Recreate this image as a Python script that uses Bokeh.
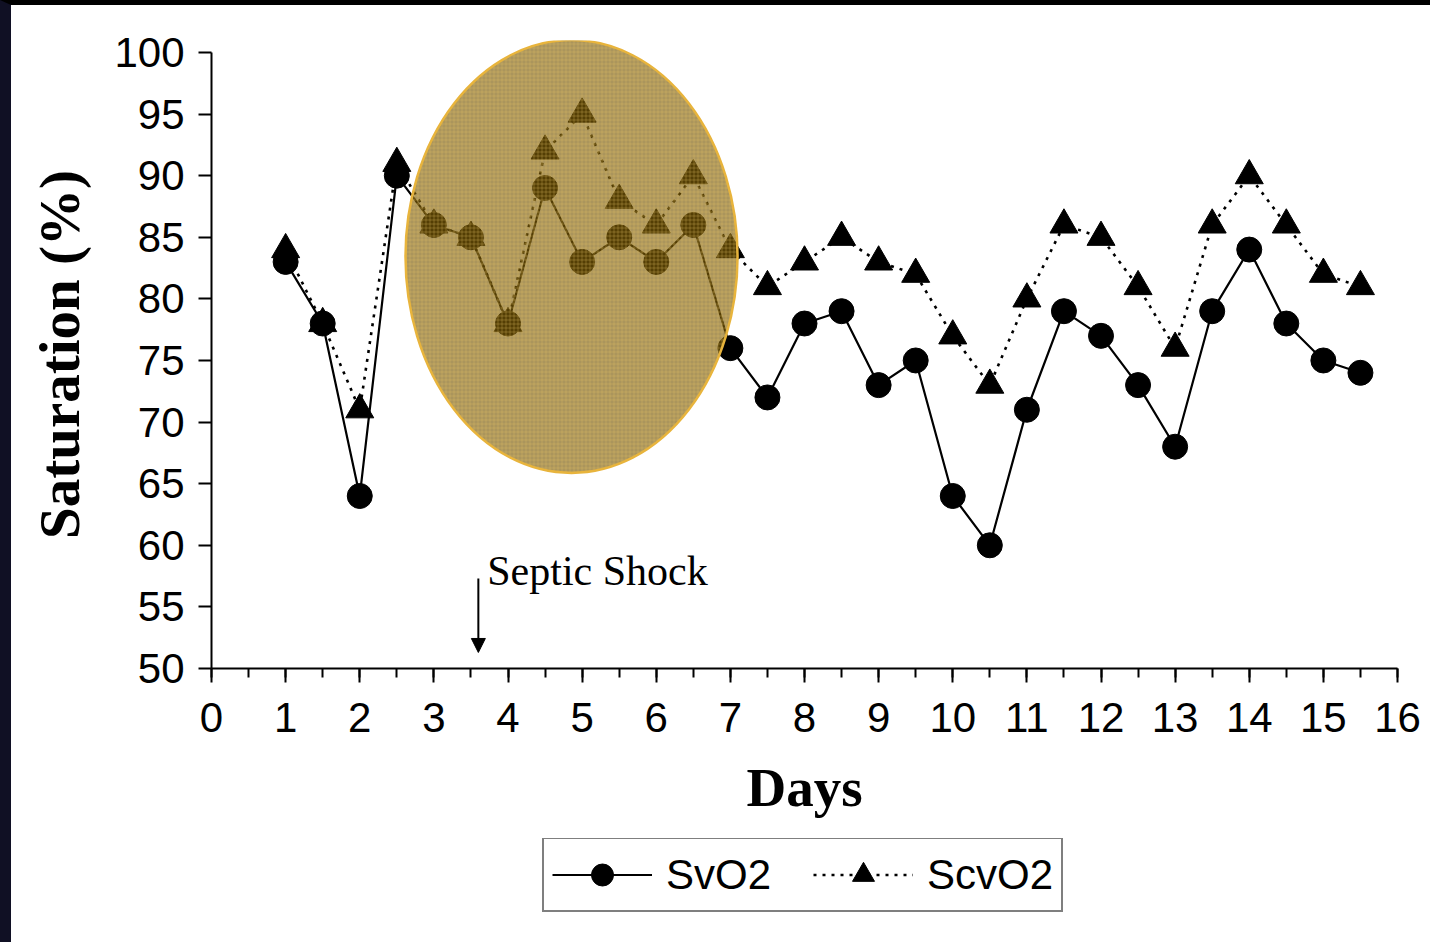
from bokeh.plotting import figure
from bokeh.layouts import column
from bokeh.models import (ColumnDataSource, Legend, LegendItem, SingleIntervalTicker,
                          Arrow, NormalHead, Label, Range1d)
from bokeh.embed import file_html
from bokeh.resources import INLINE

# Mixed venous (SvO2) and central venous (ScvO2) oxygen saturation, twice daily
days = [1, 1.5, 2, 2.5, 3, 3.5, 4, 4.5, 5, 5.5, 6, 6.5, 7, 7.5, 8, 8.5,
        9, 9.5, 10, 10.5, 11, 11.5, 12, 12.5, 13, 13.5, 14, 14.5, 15, 15.5]
svo2 = [83, 78, 64, 90, 86, 85, 78, 89, 83, 85, 83, 86, 76, 72, 78, 79,
        73, 75, 64, 60, 71, 79, 77, 73, 68, 79, 84, 78, 75, 74]
scvo2 = [84, 78, 71, 91, 86, 85, 78, 92, 95, 88, 86, 90, 84, 81, 83, 85,
         83, 82, 77, 73, 80, 86, 85, 81, 76, 86, 90, 86, 82, 81]

series_labels = ["SvO2", "ScvO2"]
x_title = "Days"
y_title = "Saturation (%)"
event_label = "Septic Shock"
event_day = 3.6

src = ColumnDataSource(dict(day=days, svo2=svo2, scvo2=scvo2))

SANS = "Liberation Sans"
SERIF = "Liberation Serif"

SV_LINE = dict(line_color="black", line_width=2.2)
SCV_LINE = dict(line_color="black", line_width=2.6, line_dash="3 6")
SV_MARK = dict(marker="circle", size=25, fill_color="black", line_color="black")
SCV_MARK = dict(marker="triangle", size=28, fill_color="black", line_color="black")

# main chart; a little head room above 100 so the highlight ellipse is not clipped
p = figure(frame_width=1186, frame_height=628,
           x_range=Range1d(0, 16), y_range=Range1d(50, 100.97),
           output_backend="svg", toolbar_location=None,
           min_border_left=200, min_border_right=33,
           min_border_top=35, min_border_bottom=170,
           background_fill_color="white", border_fill_color="white")
p.outline_line_color = None
p.grid.visible = False

# axes
p.xaxis.ticker = SingleIntervalTicker(interval=1, num_minor_ticks=2)
p.yaxis.ticker = SingleIntervalTicker(interval=5, num_minor_ticks=0)
p.yaxis.bounds = (50, 100)
for ax in (p.xaxis[0], p.yaxis[0]):
    ax.axis_line_width = 2
    ax.axis_line_color = "black"
    ax.major_tick_line_width = 2
    ax.minor_tick_line_width = 2
    ax.major_tick_line_color = "black"
    ax.minor_tick_line_color = "black"
    ax.major_tick_in = 0
    ax.minor_tick_in = 0
    ax.major_label_text_font = SANS
    ax.major_label_text_font_size = "42px"
    ax.major_label_text_color = "black"
    ax.axis_label_text_font = SERIF
    ax.axis_label_text_font_style = "bold"
    ax.axis_label_text_color = "black"

p.xaxis.major_tick_out = 14
p.xaxis.minor_tick_out = 9
p.xaxis.major_label_standoff = 20
p.xaxis.axis_label = x_title
p.xaxis.axis_label_standoff = 22
p.xaxis.axis_label_text_font_size = "55px"

p.yaxis.major_tick_out = 13
p.yaxis.minor_tick_out = 0
p.yaxis.major_label_standoff = 14
p.yaxis.axis_label = y_title
p.yaxis.axis_label_standoff = 20
p.yaxis.axis_label_text_font_size = "57px"

# series
p.line("day", "svo2", source=src, **SV_LINE)
p.scatter("day", "svo2", source=src, **SV_MARK)
p.line("day", "scvo2", source=src, **SCV_LINE)
p.scatter("day", "scvo2", source=src, **SCV_MARK)

# highlighted early period
p.ellipse(x=4.857, y=83.44, width=4.48, height=35.15,
          fill_color="#7f5e08", fill_alpha=0.66,
          hatch_pattern="+", hatch_color="#e8c860", hatch_alpha=0.3,
          hatch_scale=4, hatch_weight=1,
          line_color="#e8b43c", line_width=2.5)

# onset of septic shock
p.add_layout(Arrow(end=NormalHead(size=14, fill_color="black", line_color="black"),
                   x_start=event_day, y_start=57.3, x_end=event_day, y_end=51.3,
                   line_color="black", line_width=2))
p.add_layout(Label(x=3.72, y=57.9, text=event_label,
                   text_font=SERIF, text_font_size="42px",
                   text_color="black", text_baseline="alphabetic"))

# legend strip underneath the chart; its key glyphs sit outside the strip's
# ranges so only the legend swatches are seen
k = figure(frame_width=1419, frame_height=104,
           x_range=Range1d(0, 1), y_range=Range1d(0, 1),
           output_backend="svg", toolbar_location=None,
           x_axis_location=None, y_axis_location=None,
           min_border_left=0, min_border_right=0,
           min_border_top=0, min_border_bottom=0,
           background_fill_color="white", border_fill_color="white")
k.outline_line_color = None
k.grid.visible = False

key_sv = [k.line([5, 6], [5, 5], **SV_LINE), k.scatter([5], [5], **SV_MARK)]
key_scv = [k.line([5, 6], [5, 5], **SCV_LINE), k.scatter([5], [5], **SCV_MARK)]

legend = Legend(items=[LegendItem(label=series_labels[0], renderers=key_sv),
                       LegendItem(label=series_labels[1], renderers=key_scv)],
                orientation="horizontal", location=(531, 30))
legend.label_text_font = SANS
legend.label_text_font_size = "42px"
legend.label_text_color = "black"
legend.glyph_width = 100
legend.glyph_height = 55
legend.label_standoff = 14
legend.spacing = 42
legend.padding = 8
legend.margin = 0
legend.border_line_color = "black"
legend.border_line_width = 2
legend.background_fill_color = "white"
k.add_layout(legend)

page = column(p, k, spacing=0)
page.styles = {"border-top": "5px solid #000000",
               "border-left": "11px solid #101024"}
open("out.html", "w").write(file_html(page, INLINE))
